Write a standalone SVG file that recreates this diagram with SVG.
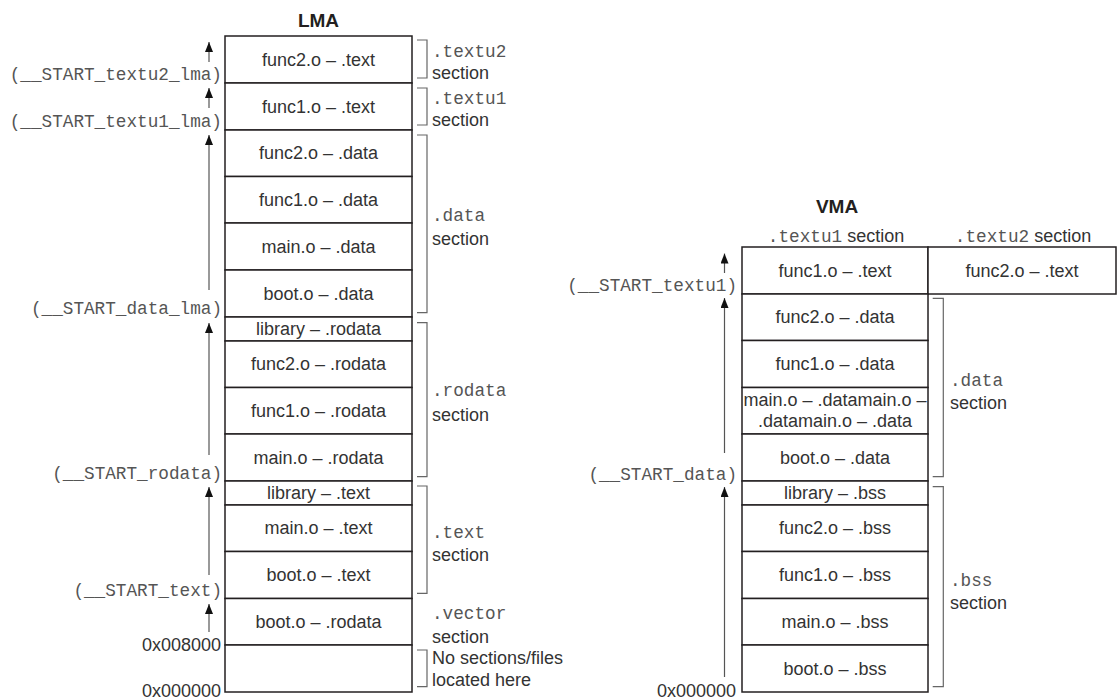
<svg xmlns="http://www.w3.org/2000/svg" width="1117" height="699" viewBox="0 0 1117 699">
<style>
.cell{fill:#fff;stroke:#231f20;stroke-width:1.5}
.t{font-family:"Liberation Sans",Arial,sans-serif;font-size:18px;fill:#333;text-anchor:middle}
.s{font-family:"Liberation Sans",Arial,sans-serif;font-size:18px;fill:#333}
.m{font-family:"Liberation Mono","Courier New",monospace;font-size:17.7px;fill:#555}
.e{text-anchor:end}
.title{font-family:"Liberation Sans",Arial,sans-serif;font-size:19px;font-weight:bold;fill:#231f20;text-anchor:middle}
.br{fill:none;stroke:#666;stroke-width:1.2}
.ar{stroke:#555;stroke-width:1.2;fill:none}
</style>
<defs>
<marker id="ah" viewBox="0 0 10 8" refX="10" refY="4" markerWidth="10" markerHeight="8" markerUnits="userSpaceOnUse" orient="auto">
<path d="M0,0 L10,4 L0,8 z" fill="#111"/>
</marker>
</defs>

<text class="title" x="318.5" y="27">LMA</text>
<text class="title" x="837" y="213">VMA</text>

<g id="lma">
<g id="lma-func2-text"><rect class="cell" x="225" y="36" width="187" height="47"/><text class="t" x="318.5" y="65.5">func2.o – .text</text></g>
<g id="lma-func1-text"><rect class="cell" x="225" y="83" width="187" height="47"/><text class="t" x="318.5" y="112.5">func1.o – .text</text></g>
<g id="lma-func2-data"><rect class="cell" x="225" y="130" width="187" height="46.5"/><text class="t" x="318.5" y="159">func2.o – .data</text></g>
<g id="lma-func1-data"><rect class="cell" x="225" y="176.5" width="187" height="46.5"/><text class="t" x="318.5" y="206">func1.o – .data</text></g>
<g id="lma-main-data"><rect class="cell" x="225" y="223" width="187" height="47"/><text class="t" x="318.5" y="252.5">main.o – .data</text></g>
<g id="lma-boot-data"><rect class="cell" x="225" y="270" width="187" height="47"/><text class="t" x="318.5" y="299.5">boot.o – .data</text></g>
<g id="lma-library-rodata"><rect class="cell" x="225" y="317" width="187" height="24"/><text class="t" x="318.5" y="334.5">library – .rodata</text></g>
<g id="lma-func2-rodata"><rect class="cell" x="225" y="341" width="187" height="46.5"/><text class="t" x="318.5" y="370">func2.o – .rodata</text></g>
<g id="lma-func1-rodata"><rect class="cell" x="225" y="387.5" width="187" height="46.5"/><text class="t" x="318.5" y="417">func1.o – .rodata</text></g>
<g id="lma-main-rodata"><rect class="cell" x="225" y="434" width="187" height="47"/><text class="t" x="318.5" y="463.5">main.o – .rodata</text></g>
<g id="lma-library-text"><rect class="cell" x="225" y="481" width="187" height="24"/><text class="t" x="318.5" y="498.5">library – .text</text></g>
<g id="lma-main-text"><rect class="cell" x="225" y="505" width="187" height="46.5"/><text class="t" x="318.5" y="534">main.o – .text</text></g>
<g id="lma-boot-text"><rect class="cell" x="225" y="551.5" width="187" height="47"/><text class="t" x="318.5" y="581">boot.o – .text</text></g>
<g id="lma-boot-rodata"><rect class="cell" x="225" y="598.5" width="187" height="46.5"/><text class="t" x="318.5" y="627.5">boot.o – .rodata</text></g>
<g id="lma-empty"><rect class="cell" x="225" y="645" width="187" height="47"/></g>
</g>

<g id="vma">
<g id="vma-func1-text"><rect class="cell" x="742" y="247" width="186" height="47"/><text class="t" x="835" y="276.5">func1.o – .text</text></g>
<g id="vma-func2-text"><rect class="cell" x="928" y="247" width="188" height="47"/><text class="t" x="1022" y="276.5">func2.o – .text</text></g>
<g id="vma-func2-data"><rect class="cell" x="742" y="294" width="186" height="46.5"/><text class="t" x="835" y="323">func2.o – .data</text></g>
<g id="vma-func1-data"><rect class="cell" x="742" y="340.5" width="186" height="47"/><text class="t" x="835" y="370">func1.o – .data</text></g>
<g id="vma-main-data"><rect class="cell" x="742" y="387.5" width="186" height="46.5"/><text class="t" x="835" y="406">main.o – .datamain.o –</text><text class="t" x="835" y="427">.datamain.o – .data</text></g>
<g id="vma-boot-data"><rect class="cell" x="742" y="434" width="186" height="47"/><text class="t" x="835" y="463.5">boot.o – .data</text></g>
<g id="vma-library-bss"><rect class="cell" x="742" y="481" width="186" height="24"/><text class="t" x="835" y="498.5">library – .bss</text></g>
<g id="vma-func2-bss"><rect class="cell" x="742" y="505" width="186" height="46.5"/><text class="t" x="835" y="534">func2.o – .bss</text></g>
<g id="vma-func1-bss"><rect class="cell" x="742" y="551.5" width="186" height="47"/><text class="t" x="835" y="581">func1.o – .bss</text></g>
<g id="vma-main-bss"><rect class="cell" x="742" y="598.5" width="186" height="46.5"/><text class="t" x="835" y="627.5">main.o – .bss</text></g>
<g id="vma-boot-bss"><rect class="cell" x="742" y="645" width="186" height="47"/><text class="t" x="835" y="674.5">boot.o – .bss</text></g>
</g>

<g id="headers">
<text class="t" x="836" y="241.5"><tspan class="m">.textu1</tspan> section</text>
<text class="t" x="1023" y="241.5"><tspan class="m">.textu2</tspan> section</text>
</g>

<g id="brackets">
<path class="br" d="M417,40 H427 V78 H417"/>
<path class="br" d="M417,88 H427 V125 H417"/>
<path class="br" d="M417,135 H427 V312.7 H417"/>
<path class="br" d="M417,322.7 H427 V476.7 H417"/>
<path class="br" d="M417,486 H427 V593.3 H417"/>
<path class="br" d="M417,650 H427 V686.7 H417"/>
<path class="br" d="M932.7,298.3 H943.3 V476.7 H932.7"/>
<path class="br" d="M932.7,486.7 H943.3 V686.7 H932.7"/>
</g>

<g id="section-labels">
<text class="m" x="432" y="57">.textu2</text><text class="s" x="432" y="79">section</text>
<text class="m" x="432" y="104">.textu1</text><text class="s" x="432" y="126">section</text>
<text class="m" x="432" y="221">.data</text><text class="s" x="432" y="245">section</text>
<text class="m" x="432" y="396">.rodata</text><text class="s" x="432" y="421">section</text>
<text class="m" x="432" y="538">.text</text><text class="s" x="432" y="561">section</text>
<text class="m" x="432" y="619">.vector</text><text class="s" x="432" y="643">section</text>
<text class="s" x="432" y="664">No sections/files</text><text class="s" x="432" y="686">located here</text>
<text class="m" x="950" y="386">.data</text><text class="s" x="950" y="409">section</text>
<text class="m" x="950" y="586">.bss</text><text class="s" x="950" y="609">section</text>
</g>

<g id="address-labels">
<text class="m e" x="222" y="80">(__START_textu2_lma)</text>
<text class="m e" x="222" y="127">(__START_textu1_lma)</text>
<text class="m e" x="222" y="314">(__START_data_lma)</text>
<text class="m e" x="222" y="479">(__START_rodata)</text>
<text class="m e" x="222" y="596">(__START_text)</text>
<text class="s e" x="221" y="651">0x008000</text>
<text class="s e" x="221" y="697">0x000000</text>
<text class="m e" x="737" y="291">(__START_textu1)</text>
<text class="m e" x="737" y="480">(__START_data)</text>
<text class="s e" x="736" y="697">0x000000</text>
</g>

<g id="connectors">
<line class="ar" x1="209" y1="62" x2="209" y2="42" marker-end="url(#ah)"/>
<line class="ar" x1="209" y1="108" x2="209" y2="88" marker-end="url(#ah)"/>
<line class="ar" x1="209" y1="290" x2="209" y2="135" marker-end="url(#ah)"/>
<line class="ar" x1="209" y1="455" x2="209" y2="323" marker-end="url(#ah)"/>
<line class="ar" x1="209" y1="575" x2="209" y2="487" marker-end="url(#ah)"/>
<line class="ar" x1="209" y1="632" x2="209" y2="604" marker-end="url(#ah)"/>
<line class="ar" x1="724.5" y1="273" x2="724.5" y2="253.5" marker-end="url(#ah)"/>
<line class="ar" x1="724.5" y1="453" x2="724.5" y2="298" marker-end="url(#ah)"/>
<line class="ar" x1="724.5" y1="677" x2="724.5" y2="487" marker-end="url(#ah)"/>
</g>
</svg>
